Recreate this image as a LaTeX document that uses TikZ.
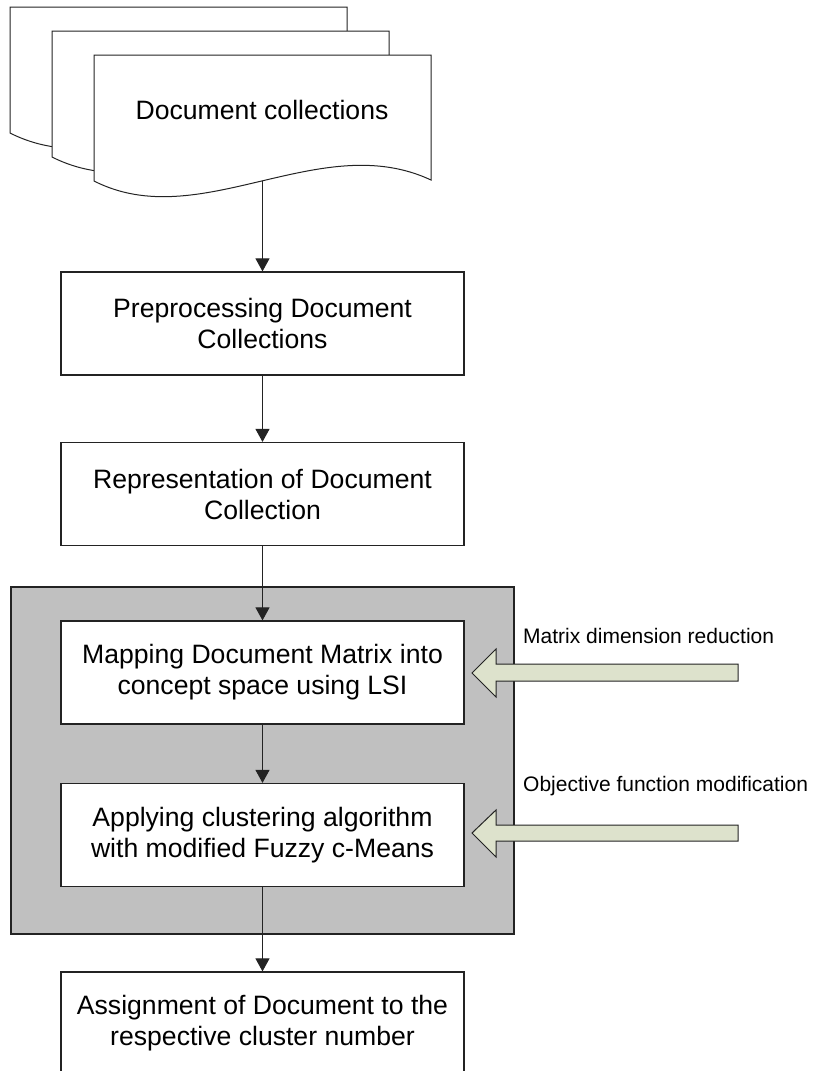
\documentclass[tikz,border=0pt]{standalone}
\usepackage{fontspec}
\setmainfont{Liberation Sans}
\usetikzlibrary{arrows.meta}
\definecolor{groupgray}{RGB}{192,192,192}
\definecolor{hintfill}{RGB}{221,226,204}
\definecolor{inkline}{RGB}{35,35,35}

\begin{document}
\begin{tikzpicture}[x=1pt,y=-1pt,
  stepbox/.style={draw=inkline, line width=1.2pt, fill=white,
    minimum width=403pt, minimum height=103pt, align=center, inner sep=0pt,
    font=\fontsize{26.6}{31}\selectfont},
  groupbox/.style={draw=inkline, line width=1.2pt, fill=groupgray,
    minimum width=503pt, minimum height=347pt, inner sep=0pt},
  flow/.style={draw=inkline, line width=1.1pt, -{Triangle[length=13pt,width=14pt]}},
  hint/.style={draw=inkline, line width=1pt, fill=hintfill, line join=miter},
  note/.style={anchor=west, inner sep=0pt, font=\fontsize{21}{25}\selectfont},
  page/.style={draw=inkline, line width=1pt, fill=white}]
\useasboundingbox (0,0) rectangle (812,1071);

% stack of three document sheets, back to front
\foreach \dx/\dy in {-84/-48, -42/-24, 0/0} {
  \path[page] ({94+\dx},{55+\dy}) -- ({431+\dx},{55+\dy}) -- ({431+\dx},{180+\dy})
    .. controls ({320+\dx},{128+\dy}) and ({200+\dx},{235+\dy}) .. ({94+\dx},{181+\dy}) -- cycle;
}
\node[inner sep=0pt, font=\fontsize{26.6}{31}\selectfont] (docs) at (262,110) {Document collections};
\coordinate (docsout) at (262.5,181);

% processing chain
\node[stepbox] (prep) at (262.5,323.5) {Preprocessing Document\\Collections};
\node[stepbox] (repr) at (262.5,494) {Representation of Document\\Collection};

\node[groupbox] (grp) at (262.5,760.5) {};
\node[stepbox] (lsi) at (262.5,672.5) {Mapping Document Matrix into\\concept space using LSI};
\node[stepbox] (fcm) at (262.5,835) {Applying clustering algorithm\\with modified Fuzzy c-Means};

\node[stepbox, minimum height=102pt] (assign) at (262.5,1023) {Assignment of Document to the\\respective cluster number};

% side inputs
\coordinate (hintA) at (472,673);
\draw[hint] (hintA) -- ++(24,-24) -- ++(0,15) -- ++(242,0) -- ++(0,17)
  -- ++(-242,0) -- ++(0,16) -- cycle;
\node[note] (hintAtext) at (523,636) {Matrix dimension reduction};

\coordinate (hintB) at (472,833);
\draw[hint] (hintB) -- ++(24,-23) -- ++(0,15) -- ++(242,0) -- ++(0,16)
  -- ++(-242,0) -- ++(0,16) -- cycle;
\node[note] (hintBtext) at (523,786) {Objective function modification};

% connectors
\draw[flow] (docsout) -- (prep.north);
\draw[flow] (prep) -- (repr);
\draw[flow] (repr) -- (lsi);
\draw[flow] (lsi) -- (fcm);
\draw[flow] (fcm) -- (assign);
\end{tikzpicture}
\end{document}
